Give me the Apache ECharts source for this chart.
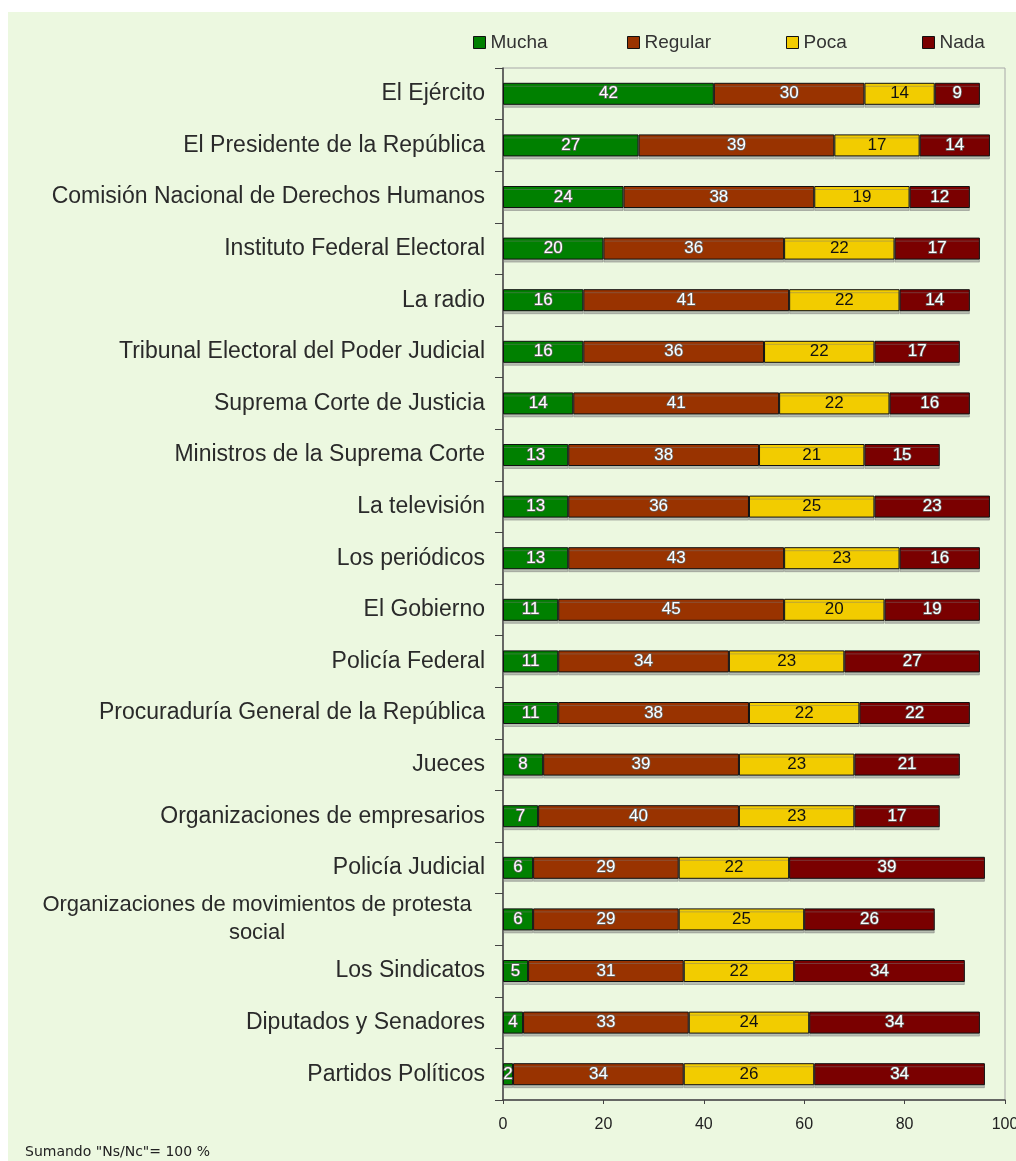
<!DOCTYPE html>
<html><head><meta charset="utf-8">
<script src="https://cdn.jsdelivr.net/npm/echarts@6/dist/echarts.min.js"></script>
<style>html,body{margin:0;padding:0;background:#fff}#c{width:1016px;height:1161px}</style>
</head><body><div id="c"></div>
<script>
const categories = [
  "El Ejército","El Presidente de la República","Comisión Nacional de Derechos Humanos",
  "Instituto Federal Electoral","La radio","Tribunal Electoral del Poder Judicial",
  "Suprema Corte de Justicia","Ministros de la Suprema Corte","La televisión",
  "Los periódicos","El Gobierno","Policía Federal","Procuraduría General de la República",
  "Jueces","Organizaciones de empresarios","Policía Judicial",
  "Organizaciones de movimientos de protesta social","Los Sindicatos",
  "Diputados y Senadores","Partidos Políticos"
];
const mucha   = [42,27,24,20,16,16,14,13,13,13,11,11,11,8,7,6,6,5,4,2];
const regular = [30,39,38,36,41,36,41,38,36,43,45,34,38,39,40,29,29,31,33,34];
const poca    = [14,17,19,22,22,22,22,21,25,23,20,23,22,23,23,22,25,22,24,26];
const nada    = [9,14,12,17,14,17,16,15,23,16,19,27,22,21,17,39,26,34,34,34];
const xTicks  = [0,20,40,60,80,100];

const names = ["Mucha","Regular","Poca","Nada"];
const colors = ["#008000","#993300","#f2cc00","#7a0000"];
const values = [mucha, regular, poca, nada];
const FONT = 'Liberation Sans, Arial';

const lightLabel = {show:true, position:'inside', color:'#fff', fontSize:17,
  fontFamily:FONT, textBorderColor:'#666', textBorderWidth:1.5};
const darkLabel = {show:true, position:'inside', color:'#111', fontSize:17,
  fontFamily:FONT};

const series = names.map((n,i)=>({
  name:n, type:'bar', stack:'t', barWidth:22,
  data: values[i],
  itemStyle:{color:colors[i], borderColor:'#111', borderWidth:1,
    shadowColor:'rgba(120,120,120,0.45)', shadowOffsetY:3, shadowBlur:0},
  label: i===2 ? darkLabel : lightLabel,
  emphasis:{disabled:true}
}));

const legendX = [468, 622, 781, 917];
const legends = names.map((n,i)=>({
  data:[n], left:legendX[i], top:28, itemWidth:12, itemHeight:12, itemGap:4,
  icon:'rect', textStyle:{color:'#333', fontSize:19, fontFamily:FONT},
  itemStyle:{borderColor:'#111', borderWidth:1}, selectedMode:false
}));

const chart = echarts.init(document.getElementById('c'));
chart.setOption({
  animation:false,
  backgroundColor:'#fff',
  graphic:[
    {type:'rect', shape:{x:8,y:12,width:1008,height:1149}, style:{fill:'#ecf8e0'}, z:-10, silent:true},
    {type:'text', left:25, top:1145, style:{text:'Sumando "Ns/Nc"= 100 %', fill:'#222', fontSize:14, fontFamily:'DejaVu Sans'}}
  ],
  legend: legends,
  grid:{left:503, right:11, top:68, bottom:61, outerBoundsMode:'none', containLabel:false,
    show:true, borderColor:'#a8a8a8', borderWidth:1, backgroundColor:'transparent'},
  xAxis:{type:'value', min:0, max:100, interval:20,
    axisLine:{show:true, lineStyle:{color:'#444', width:1.5}},
    axisTick:{show:true, length:4, inside:false, lineStyle:{color:'#444'}},
    splitLine:{show:false},
    axisLabel:{color:'#222', fontSize:16, margin:17, fontFamily:FONT, hideOverlap:false,
      formatter:v=>xTicks.includes(v)?String(v):''}
  },
  yAxis:{type:'category', inverse:true, data:categories,
    axisLine:{show:true, lineStyle:{color:'#444', width:1.5}},
    axisTick:{show:true, length:8, lineStyle:{color:'#444'}},
    axisLabel:{color:'#2a2a2a', fontSize:23, margin:18, fontFamily:FONT,
      formatter:v=> v.startsWith('Organizaciones de movimientos')
        ? '{c|Organizaciones de movimientos de protesta}\n{c|social}' : v,
      rich:{c:{width:456, align:'center', fontSize:22, color:'#2a2a2a', lineHeight:28, fontFamily:FONT}}
    }
  },
  series: series
});
</script></body></html>
